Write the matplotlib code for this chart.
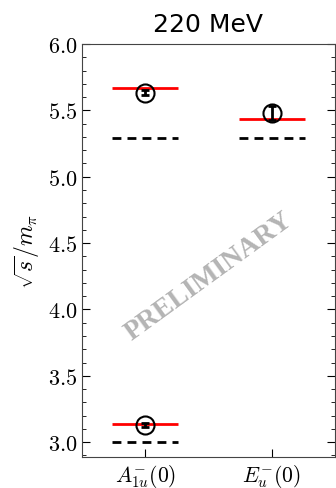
import numpy as np
import matplotlib
matplotlib.use('Agg')
import matplotlib.pyplot as plt
from matplotlib.ticker import FuncFormatter, MultipleLocator

plt.rcParams['mathtext.fontset'] = 'cm'

# irreps and their levels
irreps = [r'$A_{1u}^{-}(0)$', r'$E_u^{-}(0)$']
# lattice levels (circles with errors), per irrep
lat_x = [0, 0, 1]
lat_E = [5.632, 3.130, 5.480]
lat_err = [0.018, 0.015, 0.050]
# red lines (fitted / interacting levels)
red_x = [0, 0, 1]
red_E = [5.668, 3.136, 5.435]
# non-interacting levels (dashed)
free_x = [0, 0, 1]
free_E = [5.293, 3.003, 5.293]

fig = plt.figure(figsize=(3.36, 4.89), dpi=100)
ax = fig.add_axes([0.244, 0.063, 0.753, 0.845])

hw = 0.26
for x, e in zip(red_x, red_E):
    ax.hlines(e, x - hw, x + hw, color='red', lw=2, zorder=2)
for x, e in zip(free_x, free_E):
    ax.hlines(e, x - hw, x + hw, color='black', lw=2, linestyles=(0, (3.2, 2.2)), zorder=2)

ax.errorbar(lat_x, lat_E, yerr=lat_err, fmt='none', ecolor='black', elinewidth=2,
            capsize=3, capthick=2, zorder=4)
ax.plot(lat_x, lat_E, 'o', ms=13, mfc='none', mec='black', mew=1.5, zorder=5)

ax.set_xlim(-0.5, 1.5)
ax.set_ylim(2.887, 6.0)
ax.set_xticks([0, 1])
ax.set_xticklabels(irreps, fontsize=15.5)
ax.yaxis.set_major_locator(MultipleLocator(0.5))
ax.yaxis.set_minor_locator(MultipleLocator(0.1))
ax.yaxis.set_major_formatter(FuncFormatter(lambda v, p: r'$%.1f$' % v))
ax.tick_params(axis='y', which='both', direction='in', right=True, labelsize=16)
ax.tick_params(axis='y', which='major', length=6)
ax.tick_params(axis='y', which='minor', length=3)
ax.tick_params(axis='x', direction='in', length=6)
ax.set_ylabel(r'$\sqrt{s}/m_\pi$', fontsize=17)
for s in ax.spines.values():
    s.set_color('#444444')

ax.set_title('220 MeV', fontsize=18, pad=9)

ax.text(0.5, 0.438, 'PRELIMINARY', transform=ax.transAxes, rotation=36,
        ha='center', va='center', fontsize=20, fontweight='bold',
        family='Liberation Serif', color='#b4b4b4')

fig.savefig('out.png', dpi=100)
